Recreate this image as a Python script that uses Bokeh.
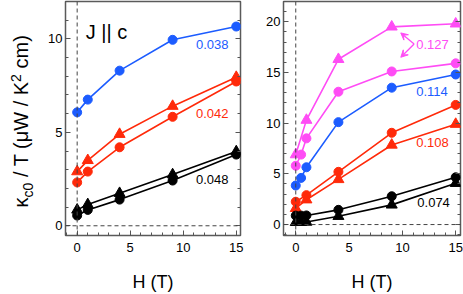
from bokeh.plotting import figure
from bokeh.layouts import row
from bokeh.models import (Span, Label, Arrow, VeeHead, LinearAxis, Div,
                          SingleIntervalTicker, Range1d, CustomJSTickFormatter)
from bokeh.embed import file_html
from bokeh.resources import INLINE

FONT = "Liberation Sans"
BLUE = "#1c5cff"
RED = "#ff2a0a"
MAG = "#ff4cf5"
BLK = "#000000"

# ---------------- data: left panel (J || c) ----------------
h_left = [0, 1, 4, 9, 15]
L_blue_circ = [6.07, 6.75, 8.3, 9.95, 10.66]      # 0.038
L_red_tri = [2.9, 3.5, 4.9, 6.4, 7.95]            # 0.042
L_red_circ = [2.32, 2.9, 4.2, 5.83, 7.72]         # 0.042
L_blk_tri = [0.85, 1.14, 1.74, 2.74, 3.97]        # 0.048
L_blk_circ = [0.55, 0.85, 1.4, 2.42, 3.81]        # 0.048
left_texts = ["0.038", "0.042", "0.048"]

# ---------------- data: right panel ----------------
h_five = [0, 1, 4, 9, 15]
h_six = [0, 0.5, 1, 4, 9, 15]
R_mag_tri = [6.9, 10.3, 16.3, 19.5, 19.8]          # 0.127 (h_five)
R_mag_circ = [5.8, 6.9, 8.5, 13.1, 15.1, 15.9]     # 0.127 (h_six)
R_blue_circ = [3.85, 4.6, 5.65, 10.1, 13.5, 14.8]  # 0.114 (h_six)
R_red_circ = [2.25, 2.9, 5.2, 9.05, 11.8]          # 0.108 (h_five)
R_red_tri = [1.6, 2.45, 4.45, 7.85, 9.9]           # 0.108 (h_five)
R_blk_circ = [0.88, 0.88, 0.9, 1.45, 2.79, 4.66]   # 0.074 (h_six)
R_blk_tri = [0.22, 0.22, 0.25, 0.82, 1.94, 4.07]   # 0.074 (h_six)
right_texts = ["0.127", "0.114", "0.108", "0.074"]

H = 294


def make_fig(width, xr, yr, mbl, mbr):
    p = figure(width=width, height=H, x_range=Range1d(*xr), y_range=Range1d(*yr),
               output_backend="svg", toolbar_location=None,
               min_border_left=mbl, min_border_right=mbr,
               min_border_top=1, min_border_bottom=59)
    p.xgrid.grid_line_color = None
    p.ygrid.grid_line_color = None
    p.outline_line_color = "#5a5a5a"
    p.outline_line_width = 1.5
    p.background_fill_color = "white"
    p.border_fill_color = "white"
    for ax in (p.xaxis[0], p.yaxis[0]):
        ax.ticker = SingleIntervalTicker(interval=5, num_minor_ticks=5)
        ax.axis_line_color = None
        ax.major_tick_in = 5
        ax.major_tick_out = 0
        ax.minor_tick_in = 3
        ax.minor_tick_out = 0
        ax.major_tick_line_color = "#555555"
        ax.minor_tick_line_color = "#555555"
        ax.major_label_text_font = FONT
        ax.major_label_text_font_size = "13px"
        ax.major_label_text_color = "black"
    p.xaxis.major_label_standoff = 7
    p.yaxis.major_label_standoff = 3
    p.xaxis.axis_label = "H (T)"
    p.xaxis.axis_label_text_font = FONT
    p.xaxis.axis_label_text_font_size = "18px"
    p.xaxis.axis_label_text_font_style = "normal"
    p.xaxis.axis_label_text_color = "black"
    p.xaxis.axis_label_standoff = 17
    rax = LinearAxis(ticker=SingleIntervalTicker(interval=5, num_minor_ticks=5),
                     axis_line_color=None, major_tick_in=5, major_tick_out=0,
                     minor_tick_in=3, minor_tick_out=0,
                     major_tick_line_color="#555555", minor_tick_line_color="#555555",
                     formatter=CustomJSTickFormatter(code="return ''"),
                     major_label_standoff=0)
    p.add_layout(rax, "right")
    p.add_layout(Span(location=0, dimension="height", line_color="#444444",
                      line_dash="4 3", line_width=1))
    p.add_layout(Span(location=0, dimension="width", line_color="#444444",
                      line_dash="4 3", line_width=1))
    return p


def series(p, x, y, color, marker):
    p.line(x, y, line_color=color, line_width=1.6)
    if marker == "circle":
        p.scatter(x, y, marker="circle", size=9, fill_color=color, line_color=color)
    else:
        p.scatter(x, y, marker="triangle", size=11, fill_color=color, line_color=color)


def txt(p, x, y, text, color, size="13px"):
    p.add_layout(Label(x=x, y=y, text=text, text_color=color, text_font=FONT,
                       text_font_size=size, text_align="left", text_baseline="middle"))


# ---------------- y-axis label (HTML, rotated) ----------------
ylab = Div(width=45, height=H, margin=0, text=(
    '<div style="width:44px;height:243px;display:flex;align-items:center;'
    'justify-content:center;">'
    '<div style="transform:rotate(-90deg);white-space:nowrap;'
    'font-family:\'Liberation Sans\';font-size:20px;color:black;line-height:1;">'
    '\u03ba<sub style="font-size:14px">c0</sub> / T (\u03bcW / K'
    '<sup style="font-size:14px">2</sup> cm)</div></div>'))

# ---------------- left figure ----------------
p1 = make_fig(210, (-1.1, 15.4), (-0.52, 12.0), 20, 15)
series(p1, h_left, L_blue_circ, BLUE, "circle")
series(p1, h_left, L_red_tri, RED, "triangle")
series(p1, h_left, L_red_circ, RED, "circle")
series(p1, h_left, L_blk_tri, BLK, "triangle")
series(p1, h_left, L_blk_circ, BLK, "circle")

txt(p1, 0.8, 10.35, "J || c", BLK, size="20px")
txt(p1, 11.2, 9.7, left_texts[0], BLUE)
txt(p1, 11.2, 6.0, left_texts[1], RED)
txt(p1, 11.2, 2.5, left_texts[2], BLK)

# ---------------- right figure ----------------
p2 = make_fig(208, (-1.15, 15.45), (-1.08, 22.0), 28, 3)
series(p2, h_five, R_mag_tri, MAG, "triangle")
series(p2, h_six, R_mag_circ, MAG, "circle")
series(p2, h_six, R_blue_circ, BLUE, "circle")
series(p2, h_five, R_red_circ, RED, "circle")
series(p2, h_five, R_red_tri, RED, "triangle")
series(p2, h_six, R_blk_circ, BLK, "circle")
series(p2, h_six, R_blk_tri, BLK, "triangle")

txt(p2, 11.3, 17.8, right_texts[0], MAG)
txt(p2, 11.3, 13.1, right_texts[1], BLUE)
txt(p2, 11.3, 8.05, right_texts[2], RED)
txt(p2, 11.4, 2.17, right_texts[3], BLK)
for ye in (18.9, 16.5):
    p2.add_layout(Arrow(x_start=11.1, y_start=17.8, x_end=9.85, y_end=ye,
                        line_color=MAG, line_width=1.3,
                        end=VeeHead(size=7, fill_color=MAG, line_color=MAG, line_width=1)))

layout = row(ylab, p1, p2)
open("out.html", "w").write(file_html(layout, INLINE))
